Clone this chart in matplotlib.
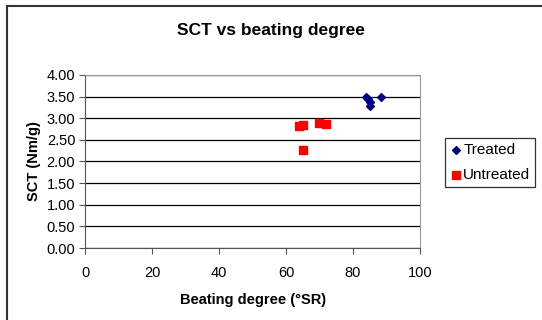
import matplotlib.pyplot as plt
from matplotlib.patches import Rectangle

plt.rcParams['font.family'] = ['Liberation Sans', 'DejaVu Sans']

# Beating degree (°SR) and SCT (Nm/g)
treated_x = [84.0, 84.6, 85.1, 85.1, 88.2]
treated_y = [3.48, 3.44, 3.38, 3.28, 3.50]
untreated_x = [64.0, 65.0, 65.0, 69.9, 71.8]
untreated_y = [2.81, 2.84, 2.26, 2.89, 2.86]

x_ticks = [0, 20, 40, 60, 80, 100]
y_ticks = [0.0, 0.5, 1.0, 1.5, 2.0, 2.5, 3.0, 3.5, 4.0]

fig = plt.figure(figsize=(5.42, 3.2), dpi=100)
ax = fig.add_axes([0.157, 0.225, 0.618, 0.541])

# outer chart border
fig.patches.append(Rectangle((7 / 542, -0.05), 1.0, 1 - 6 / 320 + 0.05,
                             transform=fig.transFigure, fill=False,
                             edgecolor='#333333', linewidth=1.5))

ax.scatter(treated_x, treated_y, marker='D', s=16, color='#000080',
           label='Treated', zorder=3)
ax.scatter(untreated_x, untreated_y, marker='s', s=36, color='#ff0000',
           label='Untreated', zorder=3)

ax.set_xlim(0, 100)
ax.set_ylim(0, 4)
ax.set_xticks(x_ticks)
ax.set_yticks(y_ticks)
ax.set_yticklabels([f'{v:.2f}' for v in y_ticks])
ax.yaxis.grid(True, color='black', linewidth=0.9)
ax.set_axisbelow(True)
ax.tick_params(labelsize=10.5, length=4, direction='out', color='#555555')
ax.tick_params(axis='x', pad=9)
ax.tick_params(axis='y', pad=3)

for side in ['top', 'right']:
    ax.spines[side].set_color('#999999')
for side in ['left', 'bottom']:
    ax.spines[side].set_color('#555555')

ax.set_xlabel('Beating degree (°SR)', fontsize=10.5, fontweight='bold', labelpad=9)
ax.set_ylabel('SCT (Nm/g)', fontsize=10.5, fontweight='bold', labelpad=4)
fig.text(0.50, 0.905, 'SCT vs beating degree', ha='center', va='center',
         fontsize=12.5, fontweight='bold')

leg = fig.legend(loc='upper left', bbox_to_anchor=(445 / 542, 1 - 138 / 320),
                 fontsize=11, frameon=True, fancybox=False, handletextpad=0.1,
                 handlelength=0.8, borderpad=0.3, labelspacing=0.75,
                 borderaxespad=0)
leg.get_frame().set_edgecolor('black')
leg.get_frame().set_linewidth(0.9)

fig.savefig('out.png', dpi=100)
